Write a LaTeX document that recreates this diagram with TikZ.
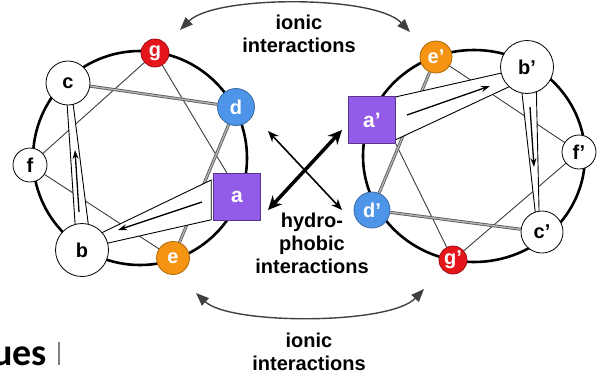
\documentclass[tikz,border=0pt]{standalone}
\usepackage{fontspec}
\setmainfont{Liberation Sans}
\newfontfamily\uesfont{Carlito}
\usetikzlibrary{arrows.meta,calc}
\pgfdeclarelayer{bg}
\pgfsetlayers{bg,main}
\definecolor{hred}{RGB}{228,22,28}
\definecolor{hblue}{RGB}{78,148,232}
\definecolor{horange}{RGB}{244,148,18}
\definecolor{hpurple}{RGB}{146,92,232}
\definecolor{thinline}{RGB}{60,60,60}
\begin{document}
\begin{tikzpicture}[x=1pt,y=-1pt,
  res/.style={circle,draw=black,line width=0.8pt,fill=white,inner sep=0pt,font=\bfseries\fontsize{20}{20}\selectfont},
  cres/.style={res,draw=#1!70!black,fill=#1,text=white},
  sq/.style={rectangle,draw=hpurple!60!black,line width=0.6pt,fill=hpurple,text=white,inner sep=0pt,minimum width=47pt,minimum height=47pt,font=\bfseries\fontsize{21}{21}\selectfont},
  ring/.style={line width=2.6pt,draw=black},
  link/.style={draw=thinline,line width=0.9pt},
  dlink/.style={draw=black!65,line width=0.8pt,double=black!30,double distance=1.4pt},
  band/.style={draw=black,line width=0.9pt,fill=white,line join=round},
  dirarrow/.style={line width=1.3pt,-{Stealth[length=9pt,width=6pt]}},
  ionic/.style={draw=black!75,line width=1.4pt,{Triangle[length=13pt,width=10pt]}-{Triangle[length=13pt,width=10pt]}},
  lbl/.style={align=center,font=\bfseries\fontsize{20}{23}\selectfont}
]
\useasboundingbox (0,0) rectangle (600,381);

% left wheel residues
\node[cres=hred,minimum size=28pt] (g) at (155,53) {g};
\node[res,minimum size=44pt] (c) at (68,83) {c};
\node[cres=hblue,minimum size=37pt] (d) at (236,107) {d};
\node[res,minimum size=34pt] (f) at (30,165) {f};
\node[sq] (a) at (237,197) {a};
\node[res,minimum size=53pt] (b) at (82,250) {b};
\node[cres=horange,minimum size=33pt] (e) at (173,258) {e};

% right wheel residues
\node[sq] (a2) at (372,120) {a'};
\node[cres=horange,minimum size=32pt] (e2) at (436,57) {e'};
\node[res,minimum size=53pt] (b2) at (527,67) {b'};
\node[res,minimum size=34pt] (f2) at (579,152) {f'};
\node[res,minimum size=42pt] (c2) at (542,232) {c'};
\node[cres=hred,minimum size=28pt] (g2) at (453,260) {g'};
\node[cres=hblue,minimum size=36pt] (d2) at (372,210) {d'};

\begin{pgfonlayer}{bg}
  \draw[ring] (140,158) ellipse [x radius=107pt,y radius=107pt];
  \draw[ring] (474,156) ellipse [x radius=111pt,y radius=106pt];
  % left thin links
  \draw[link] (f.center) -- (g.center);
  \draw[link] (e.center) -- (f.center);
  \draw[link] (g.center) -- ($(a.north)+(-10,0)$);
  \draw[dlink] (c) -- (d);
  \draw[dlink] (d) -- (e);
  % left bands
  \draw[band] ($(a.west)+(-2,-17)$) -- ($(b.center)+(13,-14)$) -- ($(b.center)+(13,-4)$) -- ($(a.south west)+(-2,-1)$) -- cycle;
  \draw[band] ($(c.center)+(-1.5,12)$) -- ($(c.center)+(4,12)$) -- ($(b.center)+(7,-20)$) -- ($(b.center)+(-6.5,-20)$) -- cycle;
  % right thin links
  \draw[link] (e2.center) -- (f2.center);
  \draw[link] (f2.center) -- (g2.center);
  \draw[link] (g2.center) -- (a2.south east);
  \draw[dlink] (c2) -- (d2);
  \draw[dlink] (d2) -- (e2);
  % right bands
  \draw[band] ($(a2.east)+(-5,-22)$) -- ($(b2.center)+(-12,3)$) -- ($(b2.center)+(-12,17)$) -- ($(a2.east)+(-5,22)$) -- cycle;
  \draw[band] ($(b2.center)+(-5.6,21)$) -- ($(b2.center)+(9.3,21)$) -- ($(c2.center)+(-2.8,-14)$) -- ($(c2.center)+(-6.1,-14)$) -- cycle;
\end{pgfonlayer}

% direction arrows inside the bands
\coordinate (ab1) at (202,202); \coordinate (ab2) at (118,230);
\coordinate (bc1) at (79,212);  \coordinate (bc2) at (75,150);
\coordinate (ab3) at (407,115); \coordinate (ab4) at (490,86);
\coordinate (bc3) at (530,107); \coordinate (bc4) at (534,167);
\draw[dirarrow] (ab1) -- (ab2);
\draw[dirarrow] (bc1) -- (bc2);
\draw[dirarrow] (ab3) -- (ab4);
\draw[dirarrow] (bc3) -- (bc4);

% ionic interaction arcs
\coordinate (it1) at (180,30); \coordinate (it2) at (410,32);
\coordinate (ib1) at (196,293); \coordinate (ib2) at (424,289);
\draw[ionic] (it1) .. controls (215,-5) and (375,-5) .. (it2);
\draw[ionic] (ib1) .. controls (230,325) and (390,325) .. (ib2);

% hydrophobic arrows
\coordinate (h1) at (268,210); \coordinate (h2) at (342,130);
\coordinate (h3) at (268,131); \coordinate (h4) at (342,210);
\draw[line width=3.5pt,{Stealth[length=14pt,width=13pt]}-{Stealth[length=14pt,width=13pt]}] (h1) -- (h2);
\draw[line width=1.6pt,{Stealth[length=11pt,width=9pt]}-{Stealth[length=11pt,width=9pt]}] (h3) -- (h4);

% labels (base anchor = baseline of the last line)
\node[lbl,anchor=base] (topl) at (299,52) {ionic\\interactions};
\node[lbl,anchor=base] (botl) at (309,370) {ionic\\interactions};
\node[lbl,anchor=base] (hydl) at (312,273) {hydro-\\phobic\\interactions};

\node[anchor=base east,inner sep=0pt,font=\uesfont\bfseries\fontsize{38}{38}\selectfont] (ues) at (47,365) {ues};
\draw[black!50,line width=1.2pt] (59,342) -- (59,365);
\end{tikzpicture}
\end{document}
